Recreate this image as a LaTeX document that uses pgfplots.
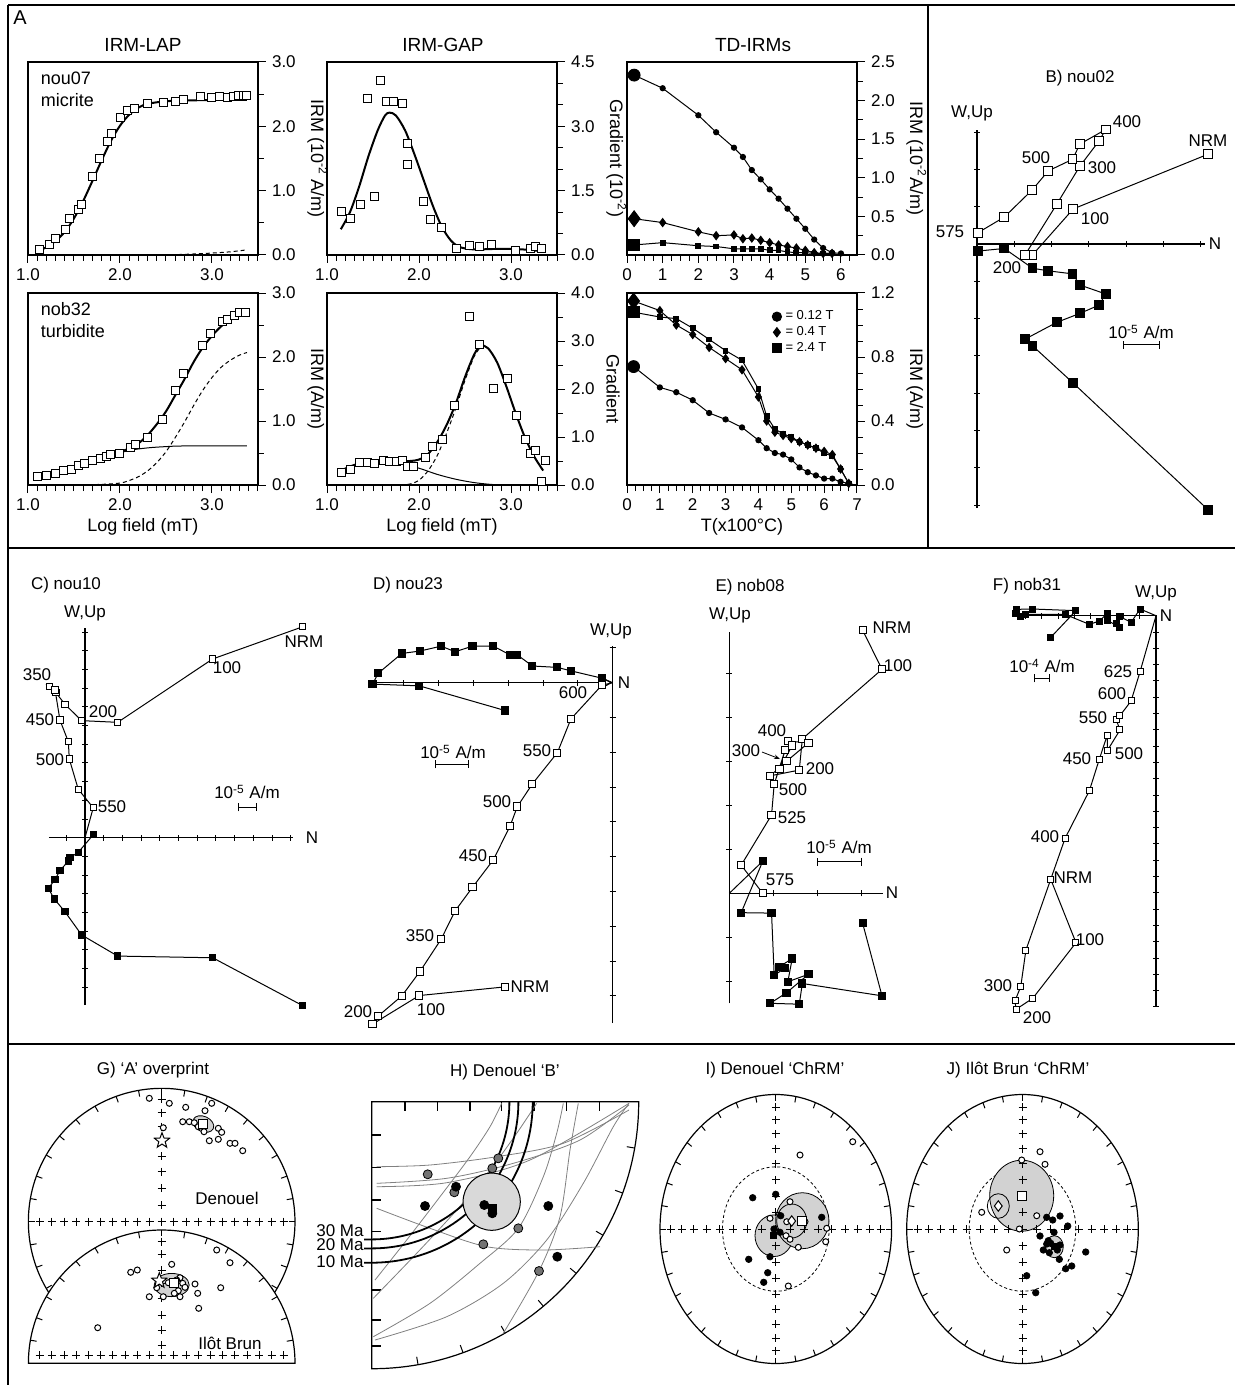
\documentclass[border=0pt]{standalone}
\usepackage{fontspec}
\setmainfont{Liberation Sans}
\usepackage{pgfplots}
\pgfplotsset{compat=1.18}
\usetikzlibrary{arrows.meta}

\pgfdeclareplotmark{ostar}{%
  \pgfpathmoveto{\pgfpointpolar{90}{\pgfplotmarksize}}%
  \pgfpathlineto{\pgfpointpolar{126}{0.42\pgfplotmarksize}}%
  \pgfpathlineto{\pgfpointpolar{162}{\pgfplotmarksize}}%
  \pgfpathlineto{\pgfpointpolar{198}{0.42\pgfplotmarksize}}%
  \pgfpathlineto{\pgfpointpolar{234}{\pgfplotmarksize}}%
  \pgfpathlineto{\pgfpointpolar{270}{0.42\pgfplotmarksize}}%
  \pgfpathlineto{\pgfpointpolar{306}{\pgfplotmarksize}}%
  \pgfpathlineto{\pgfpointpolar{342}{0.42\pgfplotmarksize}}%
  \pgfpathlineto{\pgfpointpolar{18}{\pgfplotmarksize}}%
  \pgfpathlineto{\pgfpointpolar{54}{0.42\pgfplotmarksize}}%
  \pgfpathclose
  \pgfusepathqfillstroke}

\pgfplotsset{
  Aaxis/.style={scale only axis, width=115pt, anchor=north west,
    xtick pos=left, ytick pos=right, yticklabel pos=right,
    tick align=outside, major tick length=4pt, minor tick length=3pt,
    tick style={black, line width=0.5pt},
    axis line style={line width=0.6pt},
    ylabel near ticks, ylabel style={rotate=180, font=\fontsize{9}{10}\selectfont},
    xlabel style={font=\fontsize{9}{10}\selectfont, yshift=2pt},
    tick label style={font=\fontsize{8.5}{10}\selectfont},
    /pgf/number format/assume math mode=true,
    clip=false},
  Zij/.style={anchor=origin, axis lines=middle, axis line style={-, line width=0.6pt},
    xtick distance=1, ytick distance=1, xticklabel=\empty, yticklabel=\empty,
    tick align=center, major tick length=3pt, tick style={black, line width=0.5pt},
    clip=false},
  osq/.style={black, line width=0.5pt, mark=square*, mark options={fill=white, solid}},
  fsq/.style={black, line width=0.5pt, mark=square*, mark options={fill=black, solid}},
  ocirc/.style={only marks, mark=*, mark size=1.5pt, mark options={fill=white, draw=black, line width=0.5pt}},
  fcirc/.style={only marks, mark=*, mark size=1.6pt, mark options={fill=black, draw=black}},
  crs/.style={only marks, mark=+, mark size=2pt, mark options={line width=0.5pt, black}},
}

\begin{document}
\fontsize{8.5}{10}\selectfont
\begin{tikzpicture}
\useasboundingbox (0,0) rectangle (617.5pt,-692.5pt);

% ================= Panel A =================
\begin{axis}[Aaxis, at={(14pt,-31pt)}, height=96.5pt,
  xmin=1, xmax=3.5, ymin=0, ymax=3,
  xtick={1,2,3}, minor xtick={1.1,1.2,...,3.5},
  ytick={0,1,2,3}, minor ytick={0.5,1.5,2.5},
  xticklabel style={/pgf/number format/.cd,fixed,fixed zerofill,precision=1},
  yticklabel style={/pgf/number format/.cd,fixed,fixed zerofill,precision=1},
  ylabel={IRM (10\textsuperscript{-2} A/m)}]
\addplot[black, line width=1pt, smooth] coordinates {(1.1,0.06)(1.2,0.12)(1.3,0.22)(1.4,0.36)(1.5,0.57)(1.6,0.84)(1.7,1.15)(1.8,1.47)(1.9,1.77)(2.0,2.01)(2.1,2.18)(2.2,2.29)(2.3,2.35)(2.5,2.39)(2.7,2.40)(3.0,2.41)(3.38,2.41)};
\addplot[black, line width=0.5pt, dash pattern=on 2pt off 1.5pt, smooth] coordinates {(2.4,0.0)(2.7,0.01)(3.0,0.03)(3.2,0.05)(3.38,0.08)};
\addplot[osq, only marks, mark size=2pt] coordinates {(1.12,0.09)(1.23,0.17)(1.30,0.25)(1.41,0.39)(1.45,0.56)(1.55,0.71)(1.58,0.79)(1.70,1.22)(1.78,1.50)(1.86,1.77)(1.91,1.89)(2.01,2.13)(2.08,2.24)(2.16,2.28)(2.30,2.35)(2.47,2.37)(2.60,2.39)(2.69,2.42)(2.87,2.46)(2.99,2.45)(3.08,2.46)(3.17,2.45)(3.23,2.47)(3.29,2.48)(3.34,2.48)(3.38,2.48)};
\node[anchor=north west, align=left, font=\fontsize{9}{11}\selectfont] at (rel axis cs:0.03,0.98) {nou07\\micrite};
\end{axis}

\begin{axis}[Aaxis, at={(163.5pt,-31pt)}, height=96.5pt,
  xmin=1, xmax=3.5, ymin=0, ymax=4.5,
  xtick={1,2,3}, minor xtick={1.1,1.2,...,3.5},
  ytick={0,1.5,3,4.5}, minor ytick={0.5,1,2,2.5,3.5,4},
  xticklabel style={/pgf/number format/.cd,fixed,fixed zerofill,precision=1},
  yticklabel style={/pgf/number format/.cd,fixed,fixed zerofill,precision=1},
  ylabel={Gradient (10\textsuperscript{-2})}]
\addplot[black, line width=1pt, smooth] coordinates {(1.15,0.6)(1.25,1.0)(1.35,1.6)(1.45,2.3)(1.55,2.9)(1.63,3.25)(1.68,3.32)(1.75,3.25)(1.85,2.9)(1.95,2.35)(2.05,1.75)(2.15,1.15)(2.25,0.65)(2.35,0.33)(2.45,0.18)(2.6,0.13)(2.8,0.14)(3.0,0.14)(3.2,0.12)(3.35,0.08)};
\addplot[osq, only marks, mark size=2pt] coordinates {(1.16,1.01)(1.25,0.84)(1.36,1.18)(1.44,3.64)(1.52,1.36)(1.58,4.06)(1.65,3.57)(1.72,3.57)(1.82,3.54)(1.87,2.59)(1.88,2.11)(2.05,1.24)(2.13,0.82)(2.24,0.65)(2.41,0.14)(2.55,0.21)(2.66,0.19)(2.79,0.25)(3.05,0.10)(3.21,0.16)(3.27,0.19)(3.33,0.14)};
\end{axis}

\begin{axis}[Aaxis, at={(313.5pt,-31pt)}, height=96.5pt,
  xmin=0, xmax=6.45, ymin=0, ymax=2.5,
  xtick={0,1,2,3,4,5,6}, minor xtick={0.25,0.5,...,6.25},
  ytick={0,0.5,1,1.5,2,2.5}, minor ytick={0.25,0.75,1.25,1.75,2.25},
  yticklabel style={/pgf/number format/.cd,fixed,fixed zerofill,precision=1},
  ylabel={IRM (10\textsuperscript{-2}A/m)}]
\addplot[black, line width=0.5pt, mark=*, mark size=1.3pt] coordinates {(0.2,2.33)(1,2.16)(2,1.81)(2.5,1.59)(3,1.39)(3.25,1.27)(3.5,1.10)(3.75,0.98)(4,0.85)(4.25,0.73)(4.5,0.60)(4.75,0.47)(5,0.34)(5.25,0.20)(5.5,0.09)(5.75,0.03)(6,0.02)};
\addplot[black, line width=0.5pt, mark=diamond*, mark size=2pt] coordinates {(0.2,0.47)(1,0.42)(2,0.30)(2.5,0.25)(3,0.26)(3.25,0.21)(3.5,0.22)(3.75,0.19)(4,0.16)(4.25,0.13)(4.5,0.11)(4.75,0.09)(5,0.06)(5.25,0.03)(5.5,0.02)(5.75,0.02)};
\addplot[black, line width=0.5pt, mark=square*, mark size=1.2pt] coordinates {(0.2,0.13)(1,0.16)(2,0.12)(2.5,0.11)(3,0.08)(3.25,0.08)(3.5,0.08)(3.75,0.08)(4,0.06)(4.25,0.06)(4.5,0.04)(4.75,0.03)(5,0.03)(5.25,0.02)(5.5,0.02)(5.75,0.02)};
\addplot[only marks, mark=*, mark size=3pt] coordinates {(0.2,2.33)};
\addplot[only marks, mark=diamond*, mark size=4pt] coordinates {(0.2,0.47)};
\addplot[only marks, mark=square*, mark size=2.8pt] coordinates {(0.2,0.13)};
\end{axis}

\begin{axis}[Aaxis, at={(14pt,-146.5pt)}, height=96pt,
  xmin=1, xmax=3.5, ymin=0, ymax=3,
  xtick={1,2,3}, minor xtick={1.1,1.2,...,3.5},
  ytick={0,1,2,3}, minor ytick={0.5,1.5,2.5},
  xticklabel style={/pgf/number format/.cd,fixed,fixed zerofill,precision=1},
  yticklabel style={/pgf/number format/.cd,fixed,fixed zerofill,precision=1},
  xlabel={Log field (mT)}, ylabel={IRM (A/m)}]
\addplot[black, line width=0.5pt, smooth] coordinates {(1.1,0.12)(1.3,0.18)(1.5,0.26)(1.7,0.36)(1.9,0.46)(2.1,0.54)(2.3,0.58)(2.5,0.6)(2.7,0.61)(3.38,0.61)};
\addplot[black, line width=0.5pt, dash pattern=on 2pt off 1.5pt, smooth] coordinates {(1.5,0)(1.8,0.01)(2.0,0.03)(2.1,0.07)(2.2,0.13)(2.3,0.22)(2.4,0.35)(2.5,0.52)(2.6,0.74)(2.7,0.98)(2.8,1.24)(2.9,1.48)(3.0,1.68)(3.1,1.84)(3.2,1.95)(3.3,2.03)(3.38,2.07)};
\addplot[black, line width=1pt, smooth] coordinates {(1.1,0.13)(1.3,0.18)(1.5,0.26)(1.7,0.37)(1.9,0.47)(2.1,0.57)(2.2,0.65)(2.3,0.78)(2.4,0.95)(2.5,1.15)(2.6,1.40)(2.7,1.65)(2.8,1.92)(2.9,2.15)(3.0,2.33)(3.1,2.48)(3.2,2.58)(3.3,2.65)(3.38,2.68)};
\addplot[osq, only marks, mark size=2pt] coordinates {(1.10,0.13)(1.20,0.15)(1.30,0.18)(1.39,0.22)(1.47,0.25)(1.55,0.31)(1.61,0.33)(1.70,0.38)(1.79,0.41)(1.85,0.45)(1.90,0.47)(2.00,0.50)(2.11,0.58)(2.17,0.63)(2.30,0.74)(2.46,1.03)(2.60,1.48)(2.69,1.74)(2.90,2.18)(2.98,2.36)(3.11,2.55)(3.17,2.58)(3.24,2.65)(3.30,2.69)(3.36,2.70)};
\node[anchor=north west, align=left, font=\fontsize{9}{11}\selectfont] at (rel axis cs:0.03,0.98) {nob32\\turbidite};
\end{axis}

\begin{axis}[Aaxis, at={(163.5pt,-146.5pt)}, height=96pt,
  xmin=1, xmax=3.5, ymin=0, ymax=4,
  xtick={1,2,3}, minor xtick={1.1,1.2,...,3.5},
  ytick={0,1,2,3,4}, minor ytick={0.5,1.5,2.5,3.5},
  xticklabel style={/pgf/number format/.cd,fixed,fixed zerofill,precision=1},
  yticklabel style={/pgf/number format/.cd,fixed,fixed zerofill,precision=1},
  xlabel={Log field (mT)}, ylabel={Gradient}]
\addplot[black, line width=0.5pt, smooth] coordinates {(1.15,0.3)(1.3,0.42)(1.45,0.48)(1.6,0.5)(1.8,0.45)(2.0,0.35)(2.2,0.22)(2.4,0.12)(2.6,0.05)(2.8,0.01)(3.0,0)};
\addplot[black, line width=0.5pt, dash pattern=on 2pt off 1.5pt, smooth] coordinates {(1.8,0.0)(1.9,0.02)(2.0,0.1)(2.1,0.3)(2.2,0.62)(2.3,1.08)(2.4,1.6)(2.5,2.18)(2.6,2.68)(2.67,2.87)};
\addplot[black, line width=1pt, smooth] coordinates {(1.15,0.3)(1.3,0.42)(1.45,0.48)(1.6,0.5)(1.75,0.5)(1.9,0.5)(2.0,0.53)(2.1,0.65)(2.2,0.9)(2.3,1.25)(2.4,1.7)(2.5,2.25)(2.6,2.72)(2.67,2.9)(2.75,2.85)(2.85,2.55)(2.95,2.05)(3.05,1.5)(3.15,1.0)(3.25,0.6)(3.35,0.3)};
\addplot[osq, only marks, mark size=2pt] coordinates {(1.16,0.26)(1.25,0.33)(1.35,0.47)(1.44,0.46)(1.52,0.45)(1.61,0.52)(1.68,0.49)(1.76,0.48)(1.82,0.52)(1.87,0.38)(1.94,0.38)(2.07,0.58)(2.15,0.80)(2.25,0.94)(2.39,1.65)(2.55,3.51)(2.66,2.92)(2.81,2.01)(2.96,2.21)(3.06,1.44)(3.16,0.94)(3.21,0.66)(3.27,0.71)(3.33,0.08)(3.37,0.52)};
\end{axis}

\begin{axis}[Aaxis, at={(313.5pt,-146.5pt)}, height=96pt,
  xmin=0, xmax=7, ymin=0, ymax=1.2,
  xtick={0,1,2,3,4,5,6,7}, minor xtick={0.25,0.5,...,6.75},
  ytick={0,0.4,0.8,1.2}, minor ytick={0.1,0.2,0.3,0.5,0.6,0.7,0.9,1.0,1.1},
  yticklabel style={/pgf/number format/.cd,fixed,fixed zerofill,precision=1},
  xlabel={T(x100°C)}, ylabel={IRM (A/m)},
  legend style={at={(0.63,0.93)}, anchor=north west, draw=none, fill=none, font=\fontsize{6.5}{7}\selectfont, row sep=-2pt, inner sep=0pt},
  legend cell align=left,
  legend image code/.code={\draw[#1, mark size=2.3pt] plot coordinates {(0.08cm,0cm)};}]
\addplot[black, line width=0.5pt, mark=*, mark size=1.3pt] coordinates {(0.2,0.74)(1,0.61)(1.5,0.58)(2,0.53)(2.5,0.45)(3,0.41)(3.5,0.36)(4,0.28)(4.25,0.23)(4.5,0.20)(4.75,0.19)(5,0.16)(5.25,0.11)(5.5,0.08)(5.75,0.06)(6,0.04)(6.25,0.04)(6.5,0.02)(6.75,0.01)};
\addlegendentry{= 0.12 T}
\addplot[black, line width=0.5pt, mark=diamond*, mark size=2pt] coordinates {(0.2,1.15)(1,1.09)(1.5,1.00)(2,0.94)(2.5,0.86)(3,0.79)(3.5,0.72)(4,0.55)(4.25,0.40)(4.5,0.33)(4.75,0.31)(5,0.29)(5.25,0.27)(5.5,0.25)(5.75,0.23)(6,0.21)(6.25,0.19)(6.5,0.10)(6.75,0.01)};
\addlegendentry{= 0.4 T}
\addplot[black, line width=0.5pt, mark=square*, mark size=1.2pt] coordinates {(0.2,1.08)(1,1.05)(1.5,1.04)(2,0.98)(2.5,0.91)(3,0.84)(3.5,0.78)(4,0.60)(4.25,0.43)(4.5,0.35)(4.75,0.32)(5,0.30)(5.25,0.27)(5.5,0.25)(5.75,0.23)(6,0.20)(6.25,0.18)(6.5,0.10)(6.75,0.01)};
\addlegendentry{= 2.4 T}
\addplot[only marks, mark=*, mark size=3pt, forget plot] coordinates {(0.2,0.74)};
\addplot[only marks, mark=diamond*, mark size=4pt, forget plot] coordinates {(0.2,1.15)};
\addplot[only marks, mark=square*, mark size=2.8pt, forget plot] coordinates {(0.2,1.08)};
\end{axis}

% ================= Zijderveld B-F =================
\begin{axis}[Zij, at={(488.5pt,-122pt)}, x=18.65pt, y=18.65pt, xmin=0, xmax=6.11, ymin=-7.08, ymax=3.06]
\addplot[osq, mark size=2.2pt] coordinates {(6.20,2.41)(2.58,0.94)(1.49,-0.29)(1.29,-0.29)(2.14,1.07)(2.76,2.09)(3.27,2.76)(3.45,3.07)(2.76,2.68)(2.56,2.27)(1.91,1.96)(1.48,1.45)(0.73,0.72)(0.02,0.30)};
\addplot[fsq, mark size=2.2pt] coordinates {(6.20,-7.13)(2.58,-3.73)(1.49,-2.73)(1.29,-2.55)(2.14,-2.10)(2.76,-1.86)(3.27,-1.64)(3.45,-1.34)(2.76,-1.10)(2.56,-0.80)(1.91,-0.72)(1.49,-0.65)(0.73,-0.12)(0.02,-0.19)};
\end{axis}

\begin{axis}[Zij, at={(42.5pt,-418.85pt)}, x=9.35pt, y=9.35pt, xmin=-1.93, xmax=11.1, ymin=-8.95, ymax=11.2]
\addplot[black, line width=0.5pt] coordinates {(0.44,1.60)(0,0)};
\addplot[osq, mark size=1.6pt] coordinates {(11.64,11.28)(6.83,9.56)(1.75,6.17)(-0.18,6.26)(-1.07,7.13)(-1.55,7.75)(-1.91,8.07)(-1.60,7.90)(-1.34,6.29)(-0.89,5.13)(-0.84,4.21)(-0.36,2.59)(0.44,1.60)};
\addplot[fsq, mark size=1.6pt] coordinates {(11.64,-8.98)(6.83,-6.42)(1.75,-6.33)(-0.18,-5.20)(-1.07,-3.96)(-1.64,-3.28)(-1.96,-2.71)(-1.60,-2.23)(-1.34,-1.76)(-0.89,-1.25)(-0.80,-1.07)(-0.36,-0.78)(0.46,0.18)};
\end{axis}

\begin{axis}[Zij, at={(306.35pt,-341.35pt)}, x=17.4pt, y=17.4pt, xmin=-7.0, xmax=0, ymin=-9.78, ymax=1.05,
  x axis line style={-{Triangle[open, length=5pt, width=5pt]}}]
\addplot[black, line width=0.5pt] coordinates {(-0.31,-0.07)(0,0)};
\addplot[black, line width=0.5pt] coordinates {(-0.31,0.13)(0,0)};
\addplot[osq, mark size=1.8pt] coordinates {(-3.09,-8.74)(-5.56,-8.99)(-6.90,-9.81)(-6.74,-9.58)(-6.06,-9.00)(-5.54,-8.30)(-4.93,-7.37)(-4.53,-6.56)(-4.03,-5.88)(-3.43,-5.09)(-2.95,-4.12)(-2.74,-3.56)(-2.31,-2.91)(-1.59,-2.01)(-1.20,-1.04)(-0.31,-0.07)};
\addplot[fsq, mark size=1.8pt] coordinates {(-3.09,-0.80)(-5.56,-0.09)(-6.90,-0.04)(-6.74,0.27)(-6.06,0.84)(-5.54,0.91)(-4.93,1.05)(-4.53,0.89)(-4.03,1.05)(-3.43,1.05)(-2.95,0.80)(-2.74,0.80)(-2.31,0.48)(-1.59,0.44)(-1.20,0.34)(-0.31,0.13)};
\end{axis}

\begin{axis}[Zij, at={(364.65pt,-446.65pt)}, x=22pt, y=22pt, xmin=0, xmax=3.5, ymin=-2.5, ymax=5.95]
\addplot[black, line width=0.5pt] coordinates {(0.76,0.73)(0,0)};
\addplot[osq, mark size=1.8pt] coordinates {(3.03,5.98)(3.47,5.09)(1.66,3.51)(1.59,2.80)(0.93,2.67)(1.30,3.00)(1.80,3.42)(1.33,3.46)(1.43,3.36)(1.14,2.82)(1.27,3.26)(1.02,2.48)(0.96,1.78)(0.27,0.64)(0.76,0.0)};
\addplot[fsq, mark size=1.8pt] coordinates {(3.03,-0.68)(3.47,-2.33)(1.66,-2.05)(1.59,-2.52)(0.93,-2.50)(1.30,-2.26)(1.80,-1.84)(1.33,-2.01)(1.43,-1.48)(1.14,-1.67)(1.27,-1.70)(1.02,-1.86)(0.96,-0.45)(0.27,-0.44)(0.76,0.73)};
\end{axis}

\begin{axis}[Zij, at={(578pt,-307.85pt)}, x=8.15pt, y=8.15pt, xmin=-8.65, xmax=0, ymin=-24, ymax=0.04]
\addplot[black, line width=0.5pt] coordinates {(-0.98,-3.44)(0,0)};
\addplot[black, line width=0.5pt] coordinates {(-0.98,0.41)(0,0)};
\addplot[osq, mark size=1.5pt] coordinates {(-6.46,-16.17)(-4.91,-20.06)(-7.56,-23.47)(-8.59,-24.15)(-8.65,-23.62)(-8.30,-22.76)(-7.98,-20.51)(-5.58,-13.66)(-4.09,-10.74)(-3.48,-8.81)(-2.99,-7.32)(-2.99,-8.28)(-2.21,-7.01)(-2.45,-6.36)(-2.21,-6.13)(-1.53,-5.23)(-0.98,-3.44)};
\addplot[fsq, mark size=1.5pt] coordinates {(-6.46,-1.33)(-4.91,0.31)(-7.56,0.41)(-8.59,0.39)(-8.65,0.14)(-8.30,-0.06)(-7.98,0.08)(-5.58,0.08)(-4.09,-0.53)(-3.48,-0.33)(-2.99,0.14)(-2.99,-0.27)(-2.21,-0.74)(-2.45,-0.47)(-2.21,-0.06)(-1.53,-0.41)(-0.98,0.41)};
\end{axis}

% ================= Stereonets G-J (axis in image pixel units) =================
\begin{axis}[at={(0pt,-520pt)}, anchor=north west, x=0.5pt, y=0.5pt, xmin=0, xmax=1235, ymin=-1385, ymax=-1040, hide axis, clip=false]
% ---- G frames
\draw[line width=0.6pt] (axis cs:274.7,-1292.3) arc[start angle=-32, end angle=212, radius=66.65pt];
\draw[line width=0.6pt] (axis cs:295,-1363.3) arc[start angle=0, end angle=180, radius=66.65pt] -- cycle;
\pgfplotsinvokeforeach{-30,-20,...,210}{\draw[line width=0.5pt] ([shift={(#1:66.65pt)}]axis cs:161.7,-1221.7) -- ([shift={(#1:63.5pt)}]axis cs:161.7,-1221.7);}
\pgfplotsinvokeforeach{10,20,...,170}{\draw[line width=0.5pt] ([shift={(#1:66.65pt)}]axis cs:161.7,-1363.3) -- ([shift={(#1:63.5pt)}]axis cs:161.7,-1363.3);}
\addplot[crs] coordinates {(39.7,-1221.7)(51.9,-1221.7)(64.1,-1221.7)(76.3,-1221.7)(88.5,-1221.7)(100.7,-1221.7)(112.9,-1221.7)(125.1,-1221.7)(137.3,-1221.7)(149.5,-1221.7)(161.7,-1221.7)(173.9,-1221.7)(186.1,-1221.7)(198.3,-1221.7)(210.5,-1221.7)(222.7,-1221.7)(234.9,-1221.7)(247.1,-1221.7)(259.3,-1221.7)(271.5,-1221.7)(283.7,-1221.7)
 (161.7,-1205)(161.7,-1188.3)(161.7,-1171.7)(161.7,-1156)(161.7,-1140)(161.7,-1126.7)(161.7,-1112.7)(161.7,-1099.3)
 (161.7,-1345)(161.7,-1330)(161.7,-1315)(161.7,-1298.3)(161.7,-1283.3)(161.7,-1270)(161.7,-1254)(161.7,-1241.7)
 (39.7,-1355)(51.9,-1355)(64.1,-1355)(76.3,-1355)(88.5,-1355)(100.7,-1355)(112.9,-1355)(125.1,-1355)(137.3,-1355)(149.5,-1355)(161.7,-1355)(173.9,-1355)(186.1,-1355)(198.3,-1355)(210.5,-1355)(222.7,-1355)(234.9,-1355)(247.1,-1355)(259.3,-1355)(271.5,-1355)(283.7,-1355)};
\draw[fill=gray!35, line width=0.4pt, rotate around={-25:(axis cs:203.3,-1124)}] (axis cs:203.3,-1124) ellipse[x radius=5.5pt, y radius=3.8pt];
\draw[fill=gray!35, line width=0.4pt] (axis cs:171.7,-1285) ellipse[x radius=8.75pt, y radius=5.8pt];
\addplot[ocirc] coordinates {(149.3,-1098.3)(169.3,-1103.3)(185.7,-1107.3)(211.7,-1103.3)(205,-1110.7)(182.7,-1121.7)(189.3,-1121.7)(194.3,-1122.7)(198.3,-1126.7)(163.3,-1127.7)(204,-1131.7)(218.3,-1128.3)(221.7,-1132.3)(209.3,-1140.7)(218.3,-1139.3)(230,-1143.3)(235,-1143.3)(242.7,-1150.7)};
\addplot[ocirc] coordinates {(216.7,-1250)(230,-1262.7)(171.7,-1264.3)(130.7,-1272.3)(137.3,-1270)(180,-1277.7)(176.7,-1280)(168.3,-1282.7)(182.7,-1283.3)(185,-1287.3)(195,-1284)(156.7,-1287.7)(178.3,-1290.7)(174.3,-1293.3)(180,-1296.7)(163.3,-1296.7)(149.3,-1296.7)(197.7,-1293.3)(220.7,-1287.7)(198.7,-1308.3)(97.7,-1327.7)};
\addplot[only marks, mark=square*, mark size=2.2pt, mark options={fill=white, draw=black, line width=0.5pt}] coordinates {(203.3,-1124)(174.3,-1282.7)};
\addplot[only marks, mark=ostar, mark size=4pt, mark options={fill=white, draw=black, line width=0.5pt}] coordinates {(162,-1140.7)(159.3,-1280.7)};

% ---- H frame
\draw[line width=0.6pt] (axis cs:638.7,-1101.7) arc[start angle=0, end angle=-90, radius=133.5pt] -- (axis cs:371.7,-1101.7) -- cycle;
\pgfplotsinvokeforeach{-10,-20,...,-80}{\draw[line width=0.5pt] ([shift={(#1:133.5pt)}]axis cs:371.7,-1101.7) -- ([shift={(#1:129.5pt)}]axis cs:371.7,-1101.7);}
\draw[line width=0.6pt] ([shift={(0pt,0pt)}]axis cs:405,-1101.7) -- ([shift={(0pt,-4.5pt)}]axis cs:405,-1101.7);
\draw[line width=0.6pt] ([shift={(0pt,0pt)}]axis cs:437.3,-1101.7) -- ([shift={(0pt,-4.5pt)}]axis cs:437.3,-1101.7);
\draw[line width=0.6pt] ([shift={(0pt,0pt)}]axis cs:470,-1101.7) -- ([shift={(0pt,-4.5pt)}]axis cs:470,-1101.7);
\draw[line width=0.6pt] ([shift={(0pt,0pt)}]axis cs:501.7,-1101.7) -- ([shift={(0pt,-4.5pt)}]axis cs:501.7,-1101.7);
\draw[line width=0.6pt] ([shift={(0pt,0pt)}]axis cs:534,-1101.7) -- ([shift={(0pt,-4.5pt)}]axis cs:534,-1101.7);
\draw[line width=0.6pt] ([shift={(0pt,0pt)}]axis cs:566.7,-1101.7) -- ([shift={(0pt,-4.5pt)}]axis cs:566.7,-1101.7);
\draw[line width=0.6pt] ([shift={(0pt,0pt)}]axis cs:599.3,-1101.7) -- ([shift={(0pt,-4.5pt)}]axis cs:599.3,-1101.7);
\draw[line width=0.6pt] ([shift={(0pt,0pt)}]axis cs:371.7,-1135) -- ([shift={(4.5pt,0pt)}]axis cs:371.7,-1135);
\draw[line width=0.6pt] ([shift={(0pt,0pt)}]axis cs:371.7,-1167.3) -- ([shift={(4.5pt,0pt)}]axis cs:371.7,-1167.3);
\draw[line width=0.6pt] ([shift={(0pt,0pt)}]axis cs:371.7,-1200) -- ([shift={(4.5pt,0pt)}]axis cs:371.7,-1200);
\draw[line width=0.6pt] ([shift={(0pt,0pt)}]axis cs:371.7,-1231.7) -- ([shift={(4.5pt,0pt)}]axis cs:371.7,-1231.7);
\draw[line width=0.6pt] ([shift={(0pt,0pt)}]axis cs:371.7,-1290) -- ([shift={(4.5pt,0pt)}]axis cs:371.7,-1290);
\draw[line width=0.6pt] ([shift={(0pt,0pt)}]axis cs:371.7,-1320) -- ([shift={(4.5pt,0pt)}]axis cs:371.7,-1320);
\draw[line width=0.6pt] ([shift={(0pt,0pt)}]axis cs:371.7,-1346) -- ([shift={(4.5pt,0pt)}]axis cs:371.7,-1346);
\addplot[gray, line width=0.4pt, smooth] coordinates {(375,-1280)(406.7,-1240)(440,-1196.7)(470,-1156.7)(490,-1126.7)(501.7,-1103.3)};
\addplot[gray, line width=0.4pt, smooth] coordinates {(373.3,-1298.3)(416.7,-1253.3)(456.7,-1210)(490,-1170)(516.7,-1133.3)(536.7,-1103.3)};
\addplot[gray, line width=0.4pt, smooth] coordinates {(373.3,-1336.7)(430,-1303.3)(480,-1263.3)(518.3,-1228.3)(543.3,-1176.7)(556.7,-1133.3)(563.3,-1103.3)};
\addplot[gray, line width=0.4pt, smooth] coordinates {(375,-1340)(446.7,-1316.7)(503.3,-1283.3)(546.7,-1240)(583.3,-1183.3)(613.3,-1126.7)(629,-1103.3)};
\addplot[gray, line width=0.4pt, smooth] coordinates {(376.7,-1166.7)(430,-1165)(496.7,-1156.7)(563.3,-1143.3)(629,-1110)};
\addplot[gray, line width=0.4pt, smooth] coordinates {(376.7,-1183.3)(446.7,-1178.3)(513.3,-1163.3)(580,-1140)(629,-1105)};
\addplot[gray, line width=0.4pt, smooth] coordinates {(376.7,-1186.7)(446.7,-1182.7)(530,-1160)(629,-1103.3)};
\addplot[gray, line width=0.4pt, smooth] coordinates {(376.7,-1208.3)(430,-1228.3)(486.7,-1246.7)(543.3,-1250)(600,-1246.7)};
\addplot[gray, line width=0.4pt, smooth] coordinates {(503.3,-1333.3)(539,-1271)(560,-1216.7)(570,-1150)(578.3,-1103.3)};
\draw[line width=0.9pt] (axis cs:509.4,-1101.7) arc[start angle=0, end angle=-90, radius=68.85pt] -- (axis cs:364,-1239.4);
\draw[line width=0.9pt] (axis cs:518.4,-1101.7) arc[start angle=0, end angle=-90, radius=73.35pt] -- (axis cs:364,-1248.4);
\draw[line width=0.9pt] (axis cs:532.7,-1101.7) arc[start angle=0, end angle=-90, radius=80.5pt] -- (axis cs:364,-1262.7);
\draw[fill=gray!30, line width=0.5pt] (axis cs:491.7,-1201.7) circle[radius=14.3pt];
\addplot[only marks, mark=*, mark size=2.25pt, mark options={fill=black!55, draw=black, line width=0.4pt}] coordinates {(427.7,-1174.3)(454.3,-1192.3)(498.3,-1158.3)(492.3,-1168.3)(518.3,-1228.3)(483.3,-1244.3)(539,-1271)};
\addplot[only marks, mark=*, mark size=2.25pt, mark options={fill=black, draw=black}] coordinates {(425,-1206)(456,-1186.7)(484.3,-1205)(492.3,-1213.3)(548.3,-1206)(557.3,-1256.7)};
\addplot[only marks, mark=square*, mark size=2.2pt, mark options={fill=black}] coordinates {(492.3,-1208.3)};

% ---- I frame
\draw[line width=0.6pt] (axis cs:775.8,-1229) ellipse[x radius=57.9pt, y radius=67.25pt];
\draw[line width=0.4pt, dash pattern=on 1.5pt off 1.2pt] (axis cs:775.8,-1229) ellipse[x radius=26.65pt, y radius=31.1pt];
\pgfplotsinvokeforeach{0,10,...,350}{\draw[line width=0.5pt] ([shift={({57.9pt*cos(#1)},{67.25pt*sin(#1)})}]axis cs:775.8,-1229) -- ([shift={({54.9pt*cos(#1)},{64.25pt*sin(#1)})}]axis cs:775.8,-1229);}
\addplot[crs] coordinates {(670.9,-1229)(681.9,-1229)(693.9,-1229)(706.6,-1229)(719.8,-1229)(733.4,-1229)(747.4,-1229)(761.5,-1229)(775.8,-1229)(790.1,-1229)(804.2,-1229)(818.2,-1229)(831.8,-1229)(845.0,-1229)(857.7,-1229)(869.7,-1229)(880.7,-1229)
 (775.8,-1107.1)(775.8,-1119.9)(775.8,-1133.9)(775.8,-1148.6)(775.8,-1163.9)(775.8,-1179.8)(775.8,-1196.0)(775.8,-1212.4)(775.8,-1245.6)(775.8,-1262.0)(775.8,-1278.2)(775.8,-1294.1)(775.8,-1309.4)(775.8,-1324.1)(775.8,-1338.1)(775.8,-1350.9)};
\draw[fill=gray!35, line width=0.4pt] (axis cs:774,-1235.7) ellipse[x radius=9.5pt, y radius=10.4pt];
\draw[fill=gray!35, line width=0.4pt] (axis cs:802.3,-1220.7) ellipse[x radius=13.3pt, y radius=14pt];
\draw[line width=0.4pt] (axis cs:791.7,-1221) ellipse[x radius=7.5pt, y radius=8.5pt];
\addplot[ocirc] coordinates {(852.7,-1141.7)(800,-1155)(790,-1201.7)(770,-1218.3)(786.7,-1221.7)(805,-1221.7)(826.7,-1228.3)(786,-1235.7)(790,-1239.3)(798.3,-1247.3)(825.7,-1241.7)(788.3,-1286)};
\addplot[fcirc] coordinates {(752.7,-1197.7)(775.7,-1194.3)(780.7,-1215.7)(821.7,-1217.3)(774,-1229)(780,-1232.3)(770,-1256.7)(748.7,-1259.3)(767.7,-1272.7)(763.7,-1282.3)};
\addplot[only marks, mark=square*, mark size=1.5pt, mark options={fill=black}] coordinates {(773.3,-1235.7)};
\addplot[only marks, mark=square*, mark size=2.2pt, mark options={fill=white, draw=black, line width=0.5pt}] coordinates {(802,-1220.7)};
\addplot[only marks, mark=diamond*, mark size=2.6pt, mark options={fill=white, draw=black, line width=0.5pt}] coordinates {(791.7,-1221)};

% ---- J frame
\draw[line width=0.6pt] (axis cs:1022.5,-1229) ellipse[x radius=57.9pt, y radius=67.25pt];
\draw[line width=0.4pt, dash pattern=on 1.5pt off 1.2pt] (axis cs:1022.5,-1229) ellipse[x radius=26.65pt, y radius=31.1pt];
\pgfplotsinvokeforeach{0,10,...,350}{\draw[line width=0.5pt] ([shift={({57.9pt*cos(#1)},{67.25pt*sin(#1)})}]axis cs:1022.5,-1229) -- ([shift={({54.9pt*cos(#1)},{64.25pt*sin(#1)})}]axis cs:1022.5,-1229);}
\addplot[crs] coordinates {(917.6,-1229)(928.6,-1229)(940.6,-1229)(953.3,-1229)(966.5,-1229)(980.1,-1229)(994.1,-1229)(1008.2,-1229)(1022.5,-1229)(1036.8,-1229)(1050.9,-1229)(1064.9,-1229)(1078.5,-1229)(1091.7,-1229)(1104.4,-1229)(1116.4,-1229)(1127.4,-1229)
 (1022.5,-1107.1)(1022.5,-1119.9)(1022.5,-1133.9)(1022.5,-1148.6)(1022.5,-1163.9)(1022.5,-1179.8)(1022.5,-1196.0)(1022.5,-1212.4)(1022.5,-1245.6)(1022.5,-1262.0)(1022.5,-1278.2)(1022.5,-1294.1)(1022.5,-1309.4)(1022.5,-1324.1)(1022.5,-1338.1)(1022.5,-1350.9)};
\draw[fill=gray!35, line width=0.4pt] (axis cs:1021.7,-1195.7) ellipse[x radius=16pt, y radius=17.75pt];
\draw[line width=0.4pt] (axis cs:998.3,-1206) ellipse[x radius=5.5pt, y radius=6.15pt];
\draw[fill=gray!35, line width=0.4pt] (axis cs:1054.3,-1246.7) ellipse[x radius=4.5pt, y radius=5.5pt];
\addplot[ocirc] coordinates {(1040,-1151.7)(1045,-1164.3)(1021.7,-1160)(981.7,-1212.3)(1036.7,-1215.7)(1019.3,-1229)(1006.7,-1250)};
\addplot[fcirc] coordinates {(1046.7,-1217.3)(1052.7,-1220)(1060,-1216)(1067.7,-1226)(1054,-1232.3)(1040,-1236)(1048.3,-1240.7)(1046.7,-1244)(1043.3,-1250)(1049.3,-1252.7)(1060,-1245)(1057.3,-1250)(1059.3,-1259.3)(1065.7,-1268.7)(1071.7,-1266)(1085.7,-1252)(1026.7,-1275.7)(1035.7,-1292.7)(1050.7,-1243.3)};
\addplot[only marks, mark=square*, mark size=1.5pt, mark options={fill=black}] coordinates {(1054.3,-1246.7)};
\addplot[only marks, mark=square*, mark size=2.2pt, mark options={fill=white, draw=black, line width=0.5pt}] coordinates {(1021.7,-1195.7)};
\addplot[only marks, mark=diamond*, mark size=2.6pt, mark options={fill=white, draw=black, line width=0.5pt}] coordinates {(998.3,-1206)};
\end{axis}

% ================= Frame lines and text =================
\begin{scope}[x=0.5pt, y=-0.5pt, every node/.style={font=\fontsize{8.5}{10}\selectfont, inner sep=0pt}]
\draw[line width=1pt] (8,5) -- (1235,5);
\draw[line width=1pt] (8,5) -- (8,1385);
\draw[line width=1pt] (928,5) -- (928,548);
\draw[line width=1pt] (8,548) -- (1235,548);
\draw[line width=1pt] (8,1044) -- (1235,1044);

\node[font=\fontsize{10}{12}\selectfont] at (20,18) {A};
\node[font=\fontsize{9.5}{11}\selectfont] at (143,45) {IRM-LAP};
\node[font=\fontsize{9.5}{11}\selectfont] at (443,45) {IRM-GAP};
\node[font=\fontsize{9.5}{11}\selectfont] at (753,45) {TD-IRMs};

% B
\node at (1080,78) {B) nou02};
\node at (972,113) {W,Up};
\node at (950,232) {575};
\node at (1036,158) {500};
\node at (1127,122) {400};
\node at (1208,141) {NRM};
\node at (1102,168) {300};
\node at (1095,219) {100};
\node at (1007,268) {200};
\node at (1215,244) {N};
\node at (1141,332) {10\textsuperscript{-5} A/m};
\draw[line width=0.5pt, {Bar[width=4pt]}-{Bar[width=4pt]}] (1122.7,345) -- (1160,345);
% C
\node at (66,585) {C) nou10};
\node at (85,613) {W,Up};
\node at (304,642) {NRM};
\node at (227,668) {100};
\node at (37,675) {350};
\node at (103,712) {200};
\node at (40,720) {450};
\node at (50,760) {500};
\node at (112,807) {550};
\node at (247,792) {10\textsuperscript{-5} A/m};
\draw[line width=0.5pt, {Bar[width=4pt]}-{Bar[width=4pt]}] (238.3,807.3) -- (256.7,807.3);
\node at (312,838) {N};
% D
\node at (408,585) {D) nou23};
\node at (611,631) {W,Up};
\node at (624,683) {N};
\node at (573,693) {600};
\node at (537,751) {550};
\node at (497,802) {500};
\node at (473,856) {450};
\node at (420,936) {350};
\node at (358,1012) {200};
\node at (431,1010) {100};
\node at (530,987) {NRM};
\node at (453,752) {10\textsuperscript{-5} A/m};
\draw[line width=0.5pt, {Bar[width=4pt]}-{Bar[width=4pt]}] (435,764.3) -- (469.3,764.3);
% E
\node at (750,587) {E) nob08};
\node at (730,615) {W,Up};
\node at (892,628) {NRM};
\node at (898,666) {100};
\node at (772,731) {400};
\node at (746,751) {300};
\draw[line width=0.4pt, -{Stealth[length=3pt]}] (762,752) -- (780,759);
\node at (820,769) {200};
\node at (793,790) {500};
\node at (792,818) {525};
\node at (780,880) {575};
\node at (839,847) {10\textsuperscript{-5} A/m};
\draw[line width=0.5pt, {Bar[width=4pt]}-{Bar[width=4pt]}] (816.7,861.7) -- (861.7,861.7);
\node at (892,893) {N};
% F
\node at (1027,586) {F) nob31};
\node at (1156,593) {W,Up};
\node at (1166,616) {N};
\node at (1042,666) {10\textsuperscript{-4} A/m};
\draw[line width=0.5pt, {Bar[width=4pt]}-{Bar[width=4pt]}] (1034,678.3) -- (1050,678.3);
\node at (1118,672) {625};
\node at (1112,694) {600};
\node at (1093,718) {550};
\node at (1129,754) {500};
\node at (1077,759) {450};
\node at (1045,837) {400};
\node at (1073,878) {NRM};
\node at (1090,940) {100};
\node at (998,986) {300};
\node at (1037,1018) {200};
% G-J
\node at (153,1070) {G) ‘A’ overprint};
\node at (227,1198) {Denouel};
\node at (230,1343) {Ilôt Brun};
\node at (505,1072) {H) Denouel ‘B’};
\node[anchor=east] at (364,1231) {30 Ma};
\node[anchor=east] at (364,1245) {20 Ma};
\node[anchor=east] at (364,1262) {10 Ma};
\node at (775,1070) {I) Denouel ‘ChRM’};
\node at (1018,1070) {J) Ilôt Brun ‘ChRM’};
\end{scope}
\end{tikzpicture}
\end{document}
